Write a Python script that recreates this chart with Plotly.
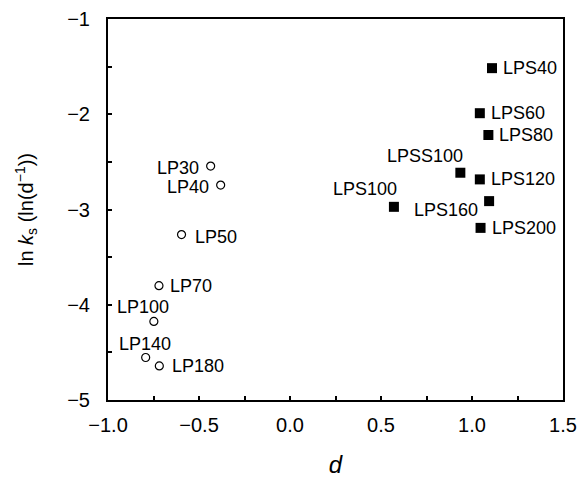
import plotly.graph_objects as go

# LP series (open circles)
lp_names = ["LP30", "LP40", "LP50", "LP70", "LP100", "LP140", "LP180"]
lp_d = [-0.436, -0.381, -0.596, -0.720, -0.748, -0.793, -0.718]
lp_lnks = [-2.544, -2.744, -3.263, -3.800, -4.175, -4.554, -4.642]

# LPS series (filled squares)
lps_names = ["LPS40", "LPS60", "LPS80", "LPSS100", "LPS120", "LPS160", "LPS200", "LPS100"]
lps_d = [1.110, 1.043, 1.090, 0.936, 1.043, 1.094, 1.047, 0.571]
lps_lnks = [-1.516, -1.989, -2.218, -2.614, -2.684, -2.912, -3.193, -2.972]

# label placement (style): (xanchor, xshift, yshift)
lp_lab = {
    "LP30": ("right", -10, -2), "LP40": ("right", -10, -2), "LP50": ("left", 11, -2),
    "LP70": ("left", 9, 0), "LP100": ("center", -11, 14), "LP140": ("center", -1, 14),
    "LP180": ("left", 11, 0),
}
lps_lab = {
    "LPS40": ("left", 9, 0), "LPS60": ("left", 9, 0), "LPS80": ("left", 9, 0),
    "LPSS100": ("center", -35, 17), "LPS120": ("left", 9, 0), "LPS160": ("right", -9, -9),
    "LPS200": ("left", 9, 0), "LPS100": ("right", 5, 18),
}

FONT = "Liberation Sans, Arial, sans-serif"

fig = go.Figure()
fig.add_trace(go.Scatter(x=lp_d, y=lp_lnks, mode="markers",
                         marker=dict(symbol="circle-open", size=8, color="black",
                                     line=dict(width=1.2, color="black")),
                         showlegend=False, cliponaxis=False))
fig.add_trace(go.Scatter(x=lps_d, y=lps_lnks, mode="markers",
                         marker=dict(symbol="square", size=10, color="black"),
                         showlegend=False, cliponaxis=False))

annots = []
for names, xs, ys, lab in [(lp_names, lp_d, lp_lnks, lp_lab), (lps_names, lps_d, lps_lnks, lps_lab)]:
    for n, x, y in zip(names, xs, ys):
        xa, xs_, ys_ = lab[n]
        annots.append(dict(x=x, y=y, xref="x", yref="y", text=n, showarrow=False,
                           xanchor=xa, yanchor="middle", xshift=xs_, yshift=ys_,
                           font=dict(family=FONT, size=18, color="black")))

fig.update_layout(
    width=579, height=478,
    margin=dict(l=108, r=16, t=19, b=78),
    plot_bgcolor="white", paper_bgcolor="white",
    font=dict(family=FONT, size=20, color="black"),
    annotations=annots,
)
fig.update_xaxes(range=[-1.0, 1.5], dtick=0.5, tick0=-1.0, tickformat=".1f",
                 ticks="inside", ticklen=4, tickwidth=1.5, tickcolor="black",
                 minor=dict(ticks="inside", dtick=0.25, tick0=-1.0, ticklen=4, tickwidth=1.5, tickcolor="black"),
                 showline=True, linewidth=2, linecolor="black", mirror=True,
                 showgrid=False, zeroline=False, automargin=False,
                 tickfont=dict(size=20), ticklabelstandoff=6,
                 title=dict(text="<i>d</i>", font=dict(size=24), standoff=22))
fig.update_yaxes(range=[-5, -1], dtick=1, tick0=-5,
                 ticks="inside", ticklen=4, tickwidth=1.5, tickcolor="black",
                 minor=dict(ticks="inside", dtick=0.5, tick0=-5, ticklen=4, tickwidth=1.5, tickcolor="black"),
                 showline=True, linewidth=2, linecolor="black", mirror=True,
                 showgrid=False, zeroline=False, automargin=False,
                 tickfont=dict(size=20), ticklabelstandoff=12,
                 title=dict(text="ln <i>k</i><sub>s</sub> (ln(d<sup>−1</sup>))", font=dict(size=20), standoff=28))

fig.write_html("out.html")
